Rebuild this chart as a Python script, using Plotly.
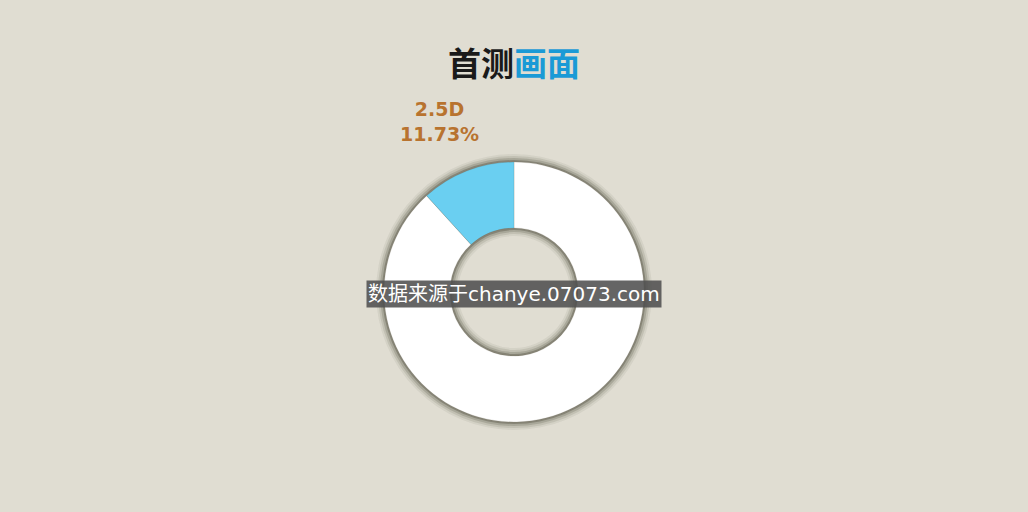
import plotly.graph_objects as go

# data
labels = ["2.5D", "其他"]
values = [11.73, 88.27]
colors = ["#6acff1", "#ffffff"]
title_a = "首测"
title_b = "画面"
source_text = "数据来源于chanye.07073.com"

W, H = 1028, 512
cx, cy = 514, 292          # donut centre in px (from top)
r_out, r_in = 130, 64


def dom(r):
    yc = H - cy
    return dict(x=[(cx - r) / W, (cx + r) / W], y=[(yc - r) / H, (yc + r) / H])


fig = go.Figure()

# soft shadow rings behind the donut
for dr, op in [(8, 0.06), (6, 0.1), (4, 0.16), (2, 0.26)]:
    ro = r_out + dr
    ri = r_in - dr
    fig.add_trace(go.Pie(values=[1], labels=["shadow"], hole=ri / ro, domain=dom(ro),
                         marker=dict(colors=[f"rgba(40,35,20,{op})"]),
                         textinfo="none", hoverinfo="skip", showlegend=False, sort=False))

# slices drawn clockwise from 12 o'clock, so the 2.5D slice goes last to end at the top
fig.add_trace(go.Pie(labels=labels[::-1], values=values[::-1], hole=r_in / r_out,
                     domain=dom(r_out), sort=False, direction="clockwise", rotation=0,
                     marker=dict(colors=colors[::-1], line=dict(color="rgba(90,80,60,0.3)", width=0.5)),
                     textinfo="none", showlegend=False,
                     hovertemplate="%{label}<br>%{percent}<extra></extra>"))

fig.add_annotation(text=f"{labels[0]}<br>{values[0]:.2f}%", x=439 / W, y=1 - 121 / H,
                   xref="paper", yref="paper", showarrow=False,
                   xanchor="center", yanchor="middle",
                   font=dict(family="DejaVu Sans", size=19, color="#b8732f", weight="bold"))

fig.add_annotation(text=f"<b>{title_a}<span style='color:#1a9ad6'>{title_b}</span></b>",
                   x=0.5, y=1 - 62 / H, xref="paper", yref="paper", showarrow=False,
                   xanchor="center", yanchor="middle",
                   font=dict(family="Noto Sans CJK SC", size=33, color="#1a1a1a"))

fig.add_annotation(text=source_text, x=0.5, y=1 - 294 / H, xref="paper", yref="paper",
                   showarrow=False, bgcolor="rgba(80,80,80,0.88)", borderpad=1,
                   xanchor="center", yanchor="middle",
                   font=dict(family="DejaVu Sans, Noto Sans CJK SC", size=20, color="#ffffff"))

fig.update_layout(width=W, height=H, margin=dict(l=0, r=0, t=0, b=0),
                  paper_bgcolor="#e0ddd2", plot_bgcolor="#e0ddd2")
fig.write_html("out.html", config={"displayModeBar": False},
               post_script="document.body.style.margin='0';")
